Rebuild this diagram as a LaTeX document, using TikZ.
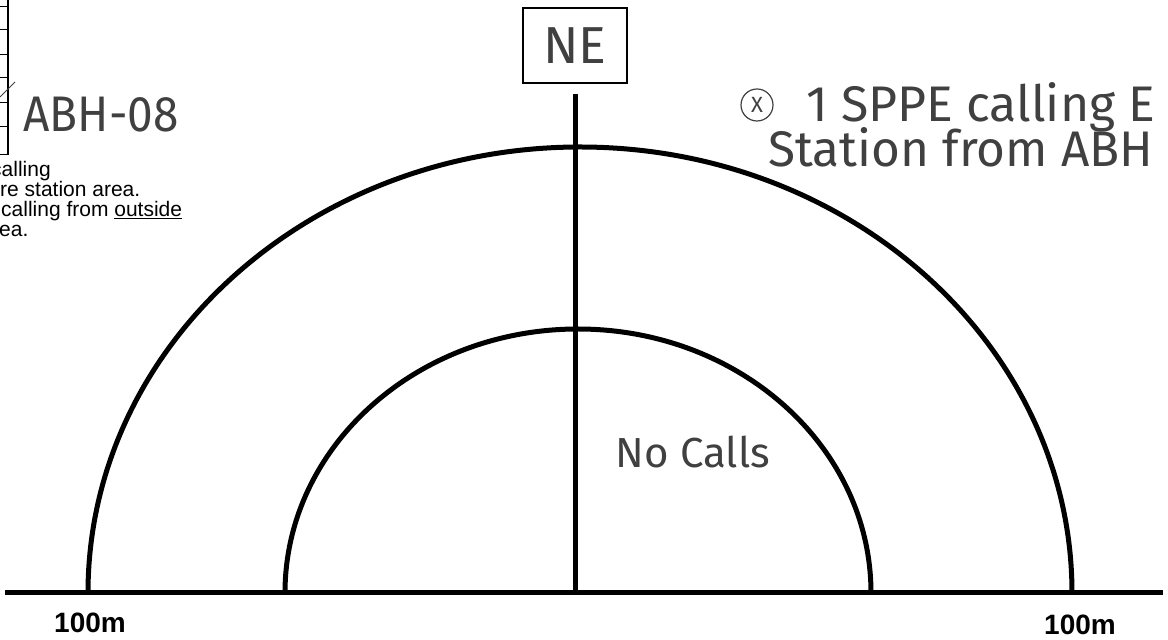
\documentclass[tikz,border=0pt]{standalone}
\usepackage{fontspec}
\setmainfont{Liberation Sans}
\newfontfamily\hand{Fira Sans}
\definecolor{ink}{gray}{0.25}

\begin{document}
\begin{tikzpicture}[x=1pt,y=1pt,
  heavy/.style={line width=5pt},
  hand/.style={text=ink,inner sep=0pt},
  printed/.style={font=\fontsize{21}{20}\selectfont,inner sep=0pt,align=left}]
  \useasboundingbox (0,0) rectangle (1168,640);
  \coordinate (w) at (5,47);
  \coordinate (e) at (1163,47);
  \draw[heavy] (w) -- (e);
  \draw[heavy] (88,47) arc[start angle=180,end angle=0,x radius=492,y radius=446];
  \draw[heavy] (285,47) arc[start angle=180,end angle=0,x radius=293,y radius=264];
  \node[draw,line width=2.5pt,minimum width=104pt,minimum height=75pt,hand,font=\hand\fontsize{52}{52}\selectfont] (ne) at (575,594.5) {NE};
  \coordinate (top) at ([yshift=-10pt]ne.south);
  \draw[heavy] (top) -- (top |- w);
  \draw[line width=1.5pt] (8,640) -- (8,485);
  \draw[line width=1pt] (0,633) -- (8,633);
  \draw[line width=1pt] (0,610) -- (8,610);
  \draw[line width=1pt] (0,585) -- (8,585);
  \draw[line width=1pt] (0,562) -- (8,562);
  \draw[line width=1pt] (0,537) -- (8,537);
  \draw[line width=1pt] (0,513) -- (8,513);
  \draw[line width=1pt] (0,485) -- (8,485);
  \draw[ink,line width=1pt] (0,543) -- (15,558);
  \node[hand,font=\hand\fontsize{50}{50}\selectfont] (abh) at (101,525) {\scalebox{0.92}[1]{ABH-08}};
  \node[printed,anchor=north west] (legend) at (-9,479) {calling\\
    \hspace*{9pt}re station area.\\
    \hspace*{10pt}calling from \underline{outside}\\
    \hspace*{1pt}rea.};
  \node[draw,circle,ink,line width=1.2pt,minimum size=32pt,inner sep=0pt,font=\hand\fontsize{22}{22}\selectfont] (mark) at (757,535) {X};
  \node[hand,anchor=west,font=\hand\fontsize{50}{50}\selectfont] (note1) at (806,533) {1 SPPE calling E};
  \node[hand,anchor=west,font=\hand\fontsize{50}{50}\selectfont] (note2) at (768,493) {\scalebox{0.99}[1]{Station from ABH}};
  \node[hand,font=\hand\fontsize{42}{42}\selectfont] (nocalls) at (693,188) {No Calls};
  \node[font=\bfseries\fontsize{28}{28}\selectfont] (left) at (90,17) {100m};
  \node[font=\bfseries\fontsize{28}{28}\selectfont] (right) at (1080,15) {100m};
\end{tikzpicture}
\end{document}
